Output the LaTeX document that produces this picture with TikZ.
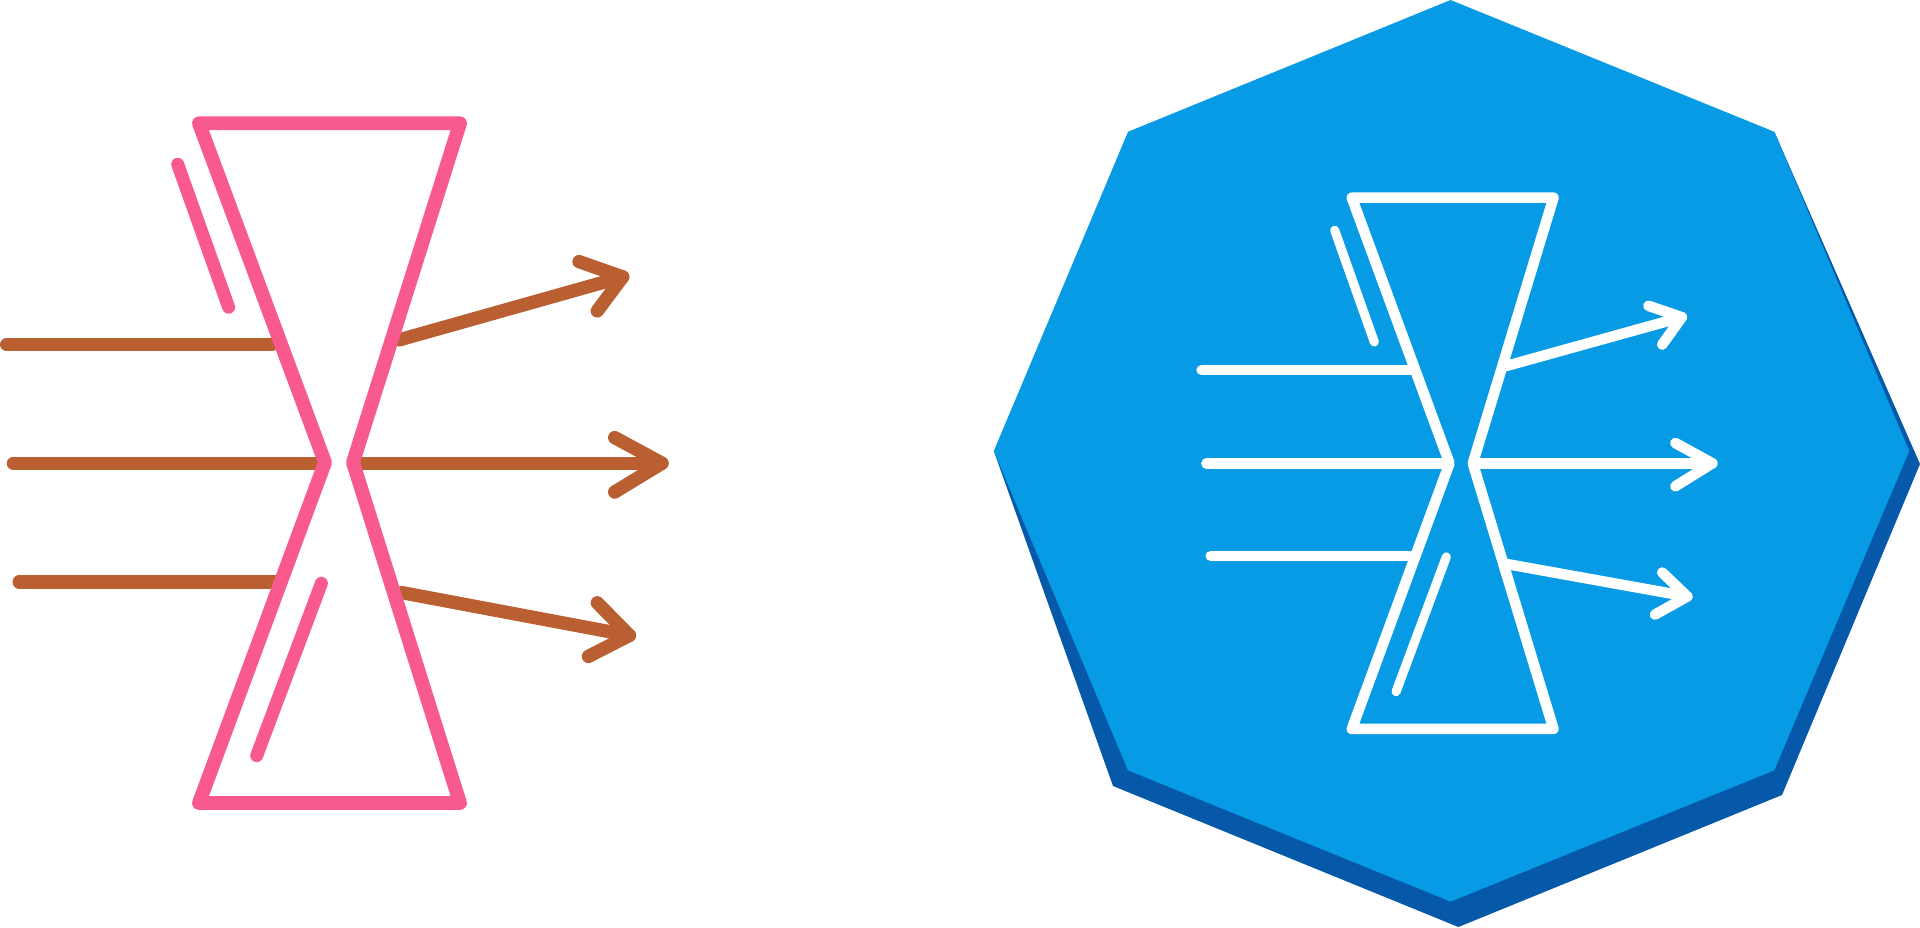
\documentclass[tikz,border=0pt]{standalone}
\definecolor{pinkc}{HTML}{F95A8E}
\definecolor{brownc}{HTML}{B95F32}
\definecolor{bluec}{HTML}{079BE6}
\definecolor{darkc}{HTML}{0559A8}
\tikzset{
  stroke/.style={line cap=round,line join=round},
  lframe/.style={stroke,draw=pinkc,line width=7.9pt},
  lshort/.style={stroke,draw=pinkc,line width=7.4pt},
  lray/.style={stroke,draw=brownc,line width=7.6pt},
  rframe/.style={stroke,draw=white,line width=6pt},
  rshort/.style={stroke,draw=white,line width=5.2pt},
  rray/.style={stroke,draw=white,line width=6pt}
}
\begin{document}
\begin{tikzpicture}[x=0.02cm,y=-0.02cm]
\useasboundingbox (0,0) rectangle (1920,927);
% left icon: rays first, frame on top
\draw[lray] (6.7,344.4) -- (272,344.4);
\draw[lray] (13.4,463.2) -- (317,463.2);
\draw[lray] (19.2,581.9) -- (274.5,581.9);
\draw[lray] (399.5,339.8) -- (622.7,276.9);
\draw[lray] (579,261.6) -- (622.7,276.9) -- (597.3,310.9);
\draw[lray] (361.6,463.2) -- (662,463.2);
\draw[lray] (614.7,437.6) -- (662,463.2) -- (614.7,492);
\draw[lray] (401.8,592.6) -- (629.4,635.4);
\draw[lray] (597.3,602.8) -- (629.4,635.4) -- (588.4,656.4);
\draw[lframe] (199,123.3) -- (460,123.3) -- (353,462.5) -- (460,803) -- (199,803) -- (325,462.5) -- cycle;
\draw[lshort] (177.7,164.3) -- (228.6,307.2);
\draw[lshort] (321.4,583.3) -- (256.7,755.6);
% right badge
\fill[darkc] (993.8,451) -- (1113,786) -- (1458.4,927) -- (1782,795) -- (1920,464) -- (1774.3,131.8) -- cycle;
\fill[bluec] (1450.6,0) -- (1774.3,131.8) -- (1909.2,451) -- (1774.3,770.3) -- (1450.6,901.6) -- (1128,770.3) -- (993.8,451) -- (1128,131.8) -- cycle;
% right icon
\draw[rray] (1201.6,370.1) -- (1411.7,370.1);
\draw[rray] (1206.4,463.3) -- (1442.6,463.3);
\draw[rray] (1210.7,555.8) -- (1411.7,555.8);
\draw[rray] (1506.2,366) -- (1681.8,317.2);
\draw[rray] (1648.4,305.8) -- (1681.8,317.2) -- (1662.2,344.6);
\draw[rray] (1475.3,463.3) -- (1712.3,463.3);
\draw[rray] (1675.3,443) -- (1712.3,463.3) -- (1675.3,486.3);
\draw[rray] (1506.2,563.9) -- (1687.3,596.5);
\draw[rray] (1662.2,572.5) -- (1687.3,596.5) -- (1654.9,614.6);
\draw[rframe] (1351.8,197.7) -- (1553.5,197.7) -- (1472.8,463.3) -- (1553.5,728.9) -- (1351.8,728.9) -- (1449.5,463.3) -- cycle;
\draw[rshort] (1334.7,230.3) -- (1374.3,342);
\draw[rshort] (1446.3,556.9) -- (1396.1,691.6);
\end{tikzpicture}
\end{document}
